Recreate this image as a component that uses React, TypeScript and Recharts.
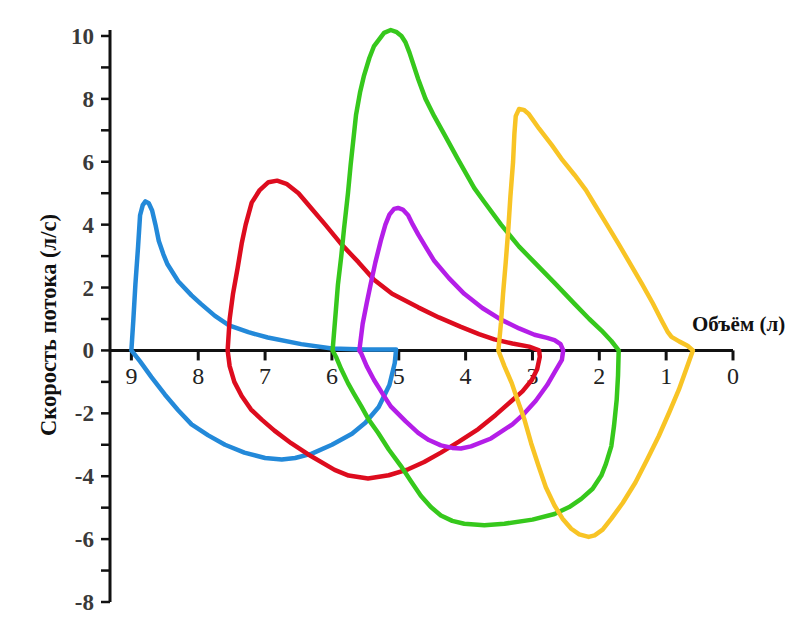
import React from "react";
import {
  ScatterChart,
  Scatter,
  XAxis,
  YAxis,
  ReferenceLine,
} from "recharts";

// flow-volume loops: volume (L) on x (reversed), flow (L/s) on y
const blueVolume = [9.0, 8.97, 8.94, 8.9, 8.87, 8.83, 8.79, 8.74, 8.69, 8.64, 8.59, 8.52, 8.46, 8.3, 8.1, 7.96, 7.75, 7.54, 7.25, 6.96, 6.46, 6.0, 5.5, 5.04, 5.06, 5.14, 5.3, 5.5, 5.7, 6.0, 6.3, 6.55, 6.75, 7.0, 7.31, 7.6, 7.85, 8.1, 8.3, 8.5, 8.7, 8.87, 9.0];
const blueFlow = [0, 1.0, 2.1, 3.3, 4.3, 4.62, 4.74, 4.68, 4.45, 4.0, 3.48, 3.05, 2.74, 2.2, 1.75, 1.48, 1.1, 0.8, 0.58, 0.41, 0.2, 0.06, 0.03, 0.03, -0.4, -1.1, -1.8, -2.3, -2.65, -3.0, -3.28, -3.42, -3.47, -3.42, -3.25, -3.0, -2.7, -2.35, -1.9, -1.4, -0.85, -0.35, 0];

const redVolume = [7.56, 7.53, 7.48, 7.41, 7.35, 7.29, 7.2, 7.08, 6.95, 6.82, 6.68, 6.5, 6.36, 6.1, 5.86, 5.6, 5.37, 5.1, 4.71, 4.4, 4.07, 3.8, 3.57, 3.3, 3.05, 2.9, 2.89, 2.93, 3.01, 3.15, 3.31, 3.55, 3.81, 4.1, 4.37, 4.62, 4.86, 5.15, 5.46, 5.75, 5.96, 6.36, 6.61, 6.86, 7.05, 7.21, 7.35, 7.46, 7.53, 7.56];
const redFlow = [0, 1.0, 1.8, 2.63, 3.4, 4.0, 4.7, 5.1, 5.35, 5.4, 5.3, 5.0, 4.65, 4.0, 3.38, 2.8, 2.25, 1.8, 1.37, 1.05, 0.75, 0.52, 0.35, 0.22, 0.12, 0.0, -0.2, -0.6, -0.94, -1.3, -1.6, -2.05, -2.5, -2.9, -3.25, -3.55, -3.78, -3.97, -4.07, -3.98, -3.8, -3.3, -2.95, -2.55, -2.2, -1.88, -1.45, -1.0, -0.5, 0];

const greenVolume = [5.99, 5.94, 5.91, 5.86, 5.82, 5.76, 5.72, 5.64, 5.58, 5.52, 5.44, 5.37, 5.22, 5.12, 5.03, 4.96, 4.9, 4.84, 4.71, 4.6, 4.47, 4.3, 4.12, 3.87, 3.72, 3.47, 3.2, 2.97, 2.67, 2.37, 2.15, 1.97, 1.82, 1.71, 1.72, 1.74, 1.78, 1.82, 1.9, 1.97, 2.1, 2.27, 2.45, 2.67, 3.0, 3.42, 3.72, 4.02, 4.2, 4.37, 4.52, 4.67, 4.82, 4.97, 5.15, 5.31, 5.45, 5.56, 5.67, 5.76, 5.86, 5.94, 5.99];
const greenFlow = [0, 1.3, 2.1, 3.0, 3.85, 5.0, 5.9, 7.48, 8.2, 8.74, 9.3, 9.68, 10.1, 10.19, 10.12, 10.0, 9.8, 9.47, 8.63, 8.0, 7.45, 6.8, 6.1, 5.16, 4.72, 4.0, 3.3, 2.8, 2.15, 1.48, 1.0, 0.64, 0.3, 0, -0.8, -1.57, -2.4, -3.04, -3.6, -3.98, -4.4, -4.72, -4.98, -5.2, -5.38, -5.51, -5.56, -5.51, -5.42, -5.25, -4.98, -4.62, -4.15, -3.67, -3.15, -2.62, -2.2, -1.78, -1.38, -1.04, -0.6, -0.2, 0];

const purpleVolume = [5.59, 5.54, 5.48, 5.42, 5.35, 5.27, 5.2, 5.14, 5.07, 5.01, 4.94, 4.86, 4.79, 4.71, 4.6, 4.47, 4.25, 4.02, 3.75, 3.47, 3.2, 2.97, 2.78, 2.67, 2.58, 2.54, 2.56, 2.67, 2.78, 2.95, 3.12, 3.3, 3.62, 3.92, 4.07, 4.2, 4.37, 4.55, 4.71, 4.9, 5.12, 5.25, 5.37, 5.48, 5.56, 5.59];
const purpleFlow = [0, 0.85, 1.5, 2.11, 2.8, 3.48, 4.0, 4.32, 4.5, 4.53, 4.48, 4.3, 4.0, 3.69, 3.3, 2.85, 2.3, 1.8, 1.35, 0.98, 0.7, 0.5, 0.4, 0.33, 0.2, 0, -0.3, -0.7, -1.1, -1.6, -2.0, -2.35, -2.8, -3.05, -3.12, -3.1, -3.02, -2.85, -2.62, -2.25, -1.78, -1.35, -0.94, -0.5, -0.1, 0];

const yellowVolume = [3.51, 3.47, 3.44, 3.4, 3.36, 3.33, 3.29, 3.27, 3.25, 3.2, 3.13, 3.06, 2.9, 2.71, 2.55, 2.37, 2.2, 2.07, 1.9, 1.71, 1.55, 1.36, 1.2, 1.07, 0.98, 0.92, 0.8, 0.68, 0.6, 0.7, 0.81, 0.95, 1.11, 1.28, 1.46, 1.65, 1.82, 1.95, 2.07, 2.16, 2.3, 2.42, 2.55, 2.67, 2.8, 2.91, 3.02, 3.12, 3.22, 3.31, 3.42, 3.51];
const yellowFlow = [0, 0.9, 1.8, 2.8, 3.9, 4.9, 6.0, 6.9, 7.45, 7.68, 7.65, 7.53, 7.05, 6.53, 6.05, 5.58, 5.1, 4.64, 4.05, 3.38, 2.8, 2.11, 1.5, 0.96, 0.6, 0.43, 0.28, 0.15, 0, -0.6, -1.25, -1.95, -2.72, -3.45, -4.2, -4.85, -5.35, -5.7, -5.88, -5.93, -5.85, -5.67, -5.35, -4.93, -4.35, -3.67, -2.95, -2.2, -1.6, -1.04, -0.5, 0];

const xTicks = [9, 8, 7, 6, 5, 4, 3, 2, 1, 0];
const yTicks = [-8, -7, -6, -5, -4, -3, -2, -1, 0, 1, 2, 3, 4, 5, 6, 7, 8, 9, 10];

const zip = (vol: number[], flow: number[]) =>
  vol.map((v, i) => ({ v, f: flow[i] }));

const loops = [
  { name: "blue", color: "#2389d9", data: zip(blueVolume, blueFlow) },
  { name: "red", color: "#dd0c1e", data: zip(redVolume, redFlow) },
  { name: "green", color: "#36c81c", data: zip(greenVolume, greenFlow) },
  { name: "purple", color: "#b41ee8", data: zip(purpleVolume, purpleFlow) },
  { name: "yellow", color: "#f8c425", data: zip(yellowVolume, yellowFlow) },
];

const SERIF = "'Liberation Serif', 'Times New Roman', serif";

const YTick = (props: any) => {
  const { x, y, payload } = props;
  if (payload.value % 2 !== 0) return <g />;
  return (
    <text
      x={x}
      y={y}
      dy={8}
      textAnchor="end"
      fontFamily={SERIF}
      fontWeight="bold"
      fontSize={23}
      fill="#3a3a3a"
    >
      {payload.value}
    </text>
  );
};

const XTickMark = (props: any) => {
  const { cx, cy, payload } = props;
  return (
    <g>
      <line x1={cx} y1={cy} x2={cx} y2={cy + 10} stroke="#111" strokeWidth={3} />
      <text
        x={cx}
        y={cy + 34}
        textAnchor="middle"
        fontFamily={SERIF}
        fontSize={24}
        fill="#222"
      >
        {payload.v}
      </text>
    </g>
  );
};

const noDot = () => <g />;

export default function App() {
  return (
    <div style={{ position: "absolute", left: 0, top: 0, background: "#fff" }}>
      <ScatterChart
        width={811}
        height={636}
        margin={{ top: 30, right: 78, bottom: 34, left: 0 }}
      >
        <XAxis type="number" dataKey="v" domain={[0, 9.32]} reversed hide />
        <YAxis
          type="number"
          dataKey="f"
          domain={[-8, 10]}
          ticks={yTicks}
          interval={0}
          width={110}
          tick={<YTick />}
          tickSize={9}
          tickMargin={7}
          tickLine={{ stroke: "#111", strokeWidth: 2.5 }}
          axisLine={{ stroke: "#111", strokeWidth: 3 }}
        />
        <ReferenceLine y={0} stroke="#111" strokeWidth={3} />
        <Scatter
          data={xTicks.map((v) => ({ v, f: 0 }))}
          shape={<XTickMark />}
          isAnimationActive={false}
        />
        {loops.map((l) => (
          <Scatter
            key={l.name}
            data={l.data}
            line={{ stroke: l.color, strokeWidth: 4.5, strokeLinejoin: "round", strokeLinecap: "round" }}
            lineType="joint"
            shape={noDot}
            fill={l.color}
            isAnimationActive={false}
          />
        ))}
        <text
          x={56}
          y={325}
          transform="rotate(-90 56 325)"
          textAnchor="middle"
          fontFamily={SERIF}
          fontWeight="bold"
          fontSize={22.5}
          fill="#111"
        >
          Скорость потока (л/с)
        </text>
        <text
          x={692}
          y={331}
          textAnchor="start"
          fontFamily={SERIF}
          fontWeight="bold"
          fontSize={21}
          fill="#111"
        >
          Объём (л)
        </text>
      </ScatterChart>
    </div>
  );
}
